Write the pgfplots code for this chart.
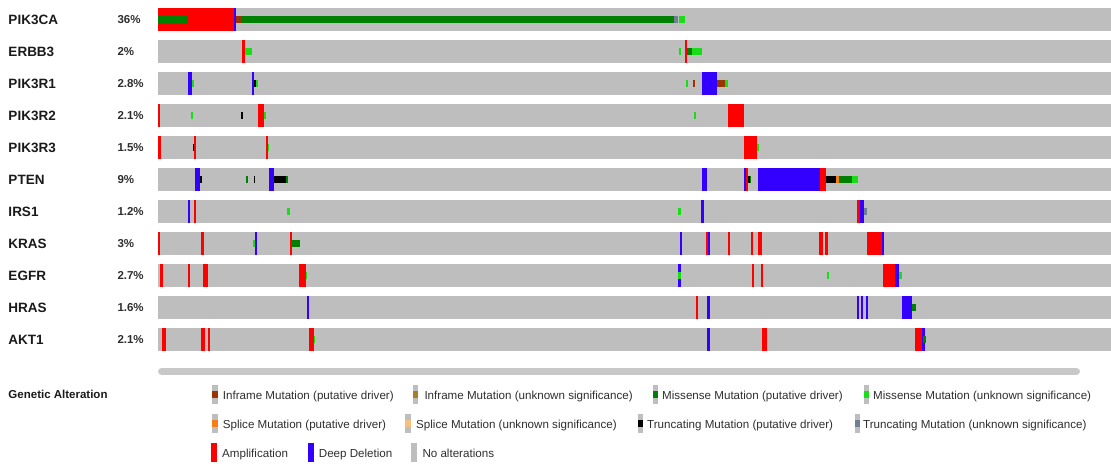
\documentclass[border=0pt]{standalone}
\usepackage{pgfplots}
\usepackage{pgfplotstable}
\pgfplotsset{compat=1.18}
\usepackage{fontspec}
\setmainfont{Liberation Sans}

\definecolor{trackgray}{HTML}{BEBEBE}
\definecolor{ampred}{HTML}{FF0000}
\definecolor{delblue}{HTML}{3300FF}
\definecolor{misd}{HTML}{008000}
\definecolor{misv}{HTML}{1ADD1A}
\definecolor{infd}{HTML}{993404}
\definecolor{infv}{HTML}{A68028}
\definecolor{trd}{HTML}{000000}
\definecolor{trv}{HTML}{708090}
\definecolor{spd}{HTML}{F57F17}
\definecolor{spv}{HTML}{F7BE7C}
\definecolor{scrollgray}{HTML}{C8C8C8}
\definecolor{txt}{HTML}{2E2E2E}
\definecolor{gtxt}{HTML}{1A1A1A}

% rectangle marks: width \cellw (data units = pt), left edge at the point
\pgfdeclareplotmark{cellF}{%
  \pgfpathrectangle{\pgfpoint{0pt}{-11.5pt}}{\pgfpoint{\cellw pt}{23pt}}\pgfusepathqfill}
\pgfdeclareplotmark{cellM}{%
  \pgfpathrectangle{\pgfpoint{0pt}{-3.75pt}}{\pgfpoint{\cellw pt}{7.5pt}}\pgfusepathqfill}
\pgfdeclareplotmark{cellL}{%
  \pgfpathrectangle{\pgfpoint{0pt}{-9.5pt}}{\pgfpoint{\cellw pt}{19pt}}\pgfusepathqfill}
\pgfdeclareplotmark{cellLM}{%
  \pgfpathrectangle{\pgfpoint{0pt}{-3.5pt}}{\pgfpoint{\cellw pt}{7pt}}\pgfusepathqfill}

\pgfplotsset{
  cells/.style={only marks, color=#1,
    mark options={fill=#1, draw=none},
    visualization depends on={\thisrow{w} \as \cellw}},
  full/.style={mark=cellF},
  mut/.style={mark=cellM},
  legF/.style={mark=cellL},
  legM/.style={mark=cellLM},
}

% tracks: x = left edge, w = width, r = gene row (0 = PIK3CA ... 10 = AKT1)
\pgfplotstableread{
x w r
158 953 0
158 953 1
158 953 2
158 953 3
158 953 4
158 953 5
158 953 6
158 953 7
158 953 8
158 953 9
158 953 10
}\tracks

% Amplification
\pgfplotstableread{
x w r
158 76 0
241.5 3.5 1
685 2 1
157.7 2.3 3
258.3 6 3
727.7 16.6 3
158.3 2.5 4
194 2.3 4
265.7 2 4
744.3 12.4 4
746 2 5
819.7 6 5
194 2.3 6
857.3 2.7 6
157.7 2.3 7
201.3 2.4 7
290 2 7
706 2.3 7
727.7 2 7
750.5 2 7
758.3 3.7 7
819.3 3.4 7
825 2.7 7
866.7 15 7
160 3 8
187.7 2.3 8
203 5 8
299 6.7 8
751.7 2.3 8
761 2.3 8
883.3 12 8
695.7 2.3 9
162 3.7 10
201.3 4 10
207.7 2.3 10
308.7 5 10
762.3 5 10
915.3 6.4 10
}\amp

% Deep deletion
\pgfplotstableread{
x w r
234 2 0
188.3 3.4 2
251.7 2.3 2
701.7 15.6 2
195.3 4.7 5
269 5 5
701.7 5 5
744.3 1.7 5
758.3 61.4 5
187.7 2.3 6
701 2.7 6
860 4 6
255 2 7
680 2.3 7
708.3 1.7 7
881.7 2 7
678.3 2.7 8
895.3 3.7 8
306.7 2.3 9
707.3 2.7 9
857.3 2 9
860.7 2 9
866 2.3 9
901.7 10 9
707.3 2.7 10
921.7 3.3 10
}\del

% Missense (putative driver)
\pgfplotstableread{
x w r
158 30 0
241 433 0
687 5 1
245.7 2 5
286 1.7 5
750 1.3 5
838.7 13 5
292 7.7 7
911.7 4 9
923.3 2.7 10
}\misdrv

% Missense (unknown significance)
\pgfplotstableread{
x w r
679 6 0
245 7 1
679 1.7 1
692 9.5 1
191.7 2.6 2
255.7 2.6 2
686.3 1.7 2
725 2.7 2
191 2.3 3
264.3 1.7 3
694.3 1.7 3
267.7 1.6 4
756.7 2 4
851.7 6 5
287.3 2.7 6
678.3 2.4 6
253.3 2 7
305.7 1.6 8
678.3 2.7 8
826.7 2.3 8
899 3 8
313.7 1.6 10
}\misvus

% Inframe (putative driver)
\pgfplotstableread{
x w r
236 5 0
693 1.7 2
717.3 7.7 2
}\infdrv

% Truncating (putative driver)
\pgfplotstableread{
x w r
254 1.7 2
241.3 1.7 3
192.7 1.6 4
200 2.3 5
253.7 1.6 5
274 12 5
748 2 5
825.7 10.6 5
}\trdrv

% Truncating (unknown significance)
\pgfplotstableread{
x w r
674 3.5 0
864 2.7 6
}\trvus

% Splice (putative driver)
\pgfplotstableread{
x w r
836.3 2.4 5
}\spdrv

% legend swatches: x, w, y (centre)
\pgfplotstableread{
x w y
212 5.5 394.7
412.7 5.5 394.7
652.5 5.5 394.7
863.5 5.5 394.7
212 5.5 423.8
405 5.5 423.8
637.5 5.5 423.8
854.5 5.5 423.8
410.7 6 452.8
}\leggray

% scrollbar
\pgfplotstableread{
x y w
161.7 371.4 0
1076.3 371.4 0
}\scrollbar

\begin{document}
\begin{tikzpicture}
\begin{axis}[
  x=1pt, y=1pt,
  xmin=0, xmax=1111, ymin=0, ymax=468,
  y dir=reverse,
  hide axis, clip=false,
  enlargelimits=false,
]
\path[draw=none] (axis cs:0,0) rectangle (axis cs:1111,468);

% scrollbar
\addplot[scrollgray, line width=7.3pt, line cap=round, mark=none] table[x=x, y=y] {\scrollbar};

% tracks
\addplot[cells=trackgray, full] table[x=x, y expr=19.5+32*\thisrow{r}] {\tracks};
% full-height alterations
\addplot[cells=ampred, full] table[x=x, y expr=19.5+32*\thisrow{r}] {\amp};
\addplot[cells=delblue, full] table[x=x, y expr=19.5+32*\thisrow{r}] {\del};
% mutations
\addplot[cells=misd, mut] table[x=x, y expr=19.5+32*\thisrow{r}] {\misdrv};
\addplot[cells=misv, mut] table[x=x, y expr=19.5+32*\thisrow{r}] {\misvus};
\addplot[cells=infd, mut] table[x=x, y expr=19.5+32*\thisrow{r}] {\infdrv};
\addplot[cells=trd, mut] table[x=x, y expr=19.5+32*\thisrow{r}] {\trdrv};
\addplot[cells=trv, mut] table[x=x, y expr=19.5+32*\thisrow{r}] {\trvus};
\addplot[cells=spd, mut] table[x=x, y expr=19.5+32*\thisrow{r}] {\spdrv};

% gene names and percentages
\foreach \g/\p [count=\i from 0] in {PIK3CA/36\%, ERBB3/2\%, PIK3R1/2.8\%, PIK3R2/2.1\%, PIK3R3/1.5\%, PTEN/9\%, IRS1/1.2\%, KRAS/3\%, EGFR/2.7\%, HRAS/1.6\%, AKT1/2.1\%}{
  \edef\temp{\noexpand\node[anchor=base west, inner sep=0pt, font=\noexpand\fontsize{13.5}{16}\noexpand\selectfont\noexpand\bfseries, text=gtxt] at (axis cs:8.3,{24.3+32*\i}) {\g};
  \noexpand\node[anchor=base west, inner sep=0pt, font=\noexpand\fontsize{11.5}{14}\noexpand\selectfont\noexpand\bfseries, text=txt] at (axis cs:117.3,{23.4+32*\i}) {\p};}
  \temp
}

% legend
\addplot[cells=trackgray, legF] table[x=x, y=y] {\leggray};
\addplot[cells=infd, legM] table[x=x, y=y] {
x w y
212 5.5 394.7
};
\addplot[cells=infv, legM] table[x=x, y=y] {
x w y
412.7 5.5 394.7
};
\addplot[cells=misd, legM] table[x=x, y=y] {
x w y
652.5 5.5 394.7
};
\addplot[cells=misv, legM] table[x=x, y=y] {
x w y
863.5 5.5 394.7
};
\addplot[cells=spd, legM] table[x=x, y=y] {
x w y
212 5.5 423.8
};
\addplot[cells=spv, legM] table[x=x, y=y] {
x w y
405 5.5 423.8
};
\addplot[cells=trd, legM] table[x=x, y=y] {
x w y
637.5 5.5 423.8
};
\addplot[cells=trv, legM] table[x=x, y=y] {
x w y
854.5 5.5 423.8
};
\addplot[cells=ampred, legF] table[x=x, y=y] {
x w y
210.7 6 452.8
};
\addplot[cells=delblue, legF] table[x=x, y=y] {
x w y
307.5 6.5 452.8
};

\tikzset{lt/.style={anchor=base west, inner sep=0pt, font=\fontsize{11.6}{14}\selectfont, text=txt}}
\node[anchor=base west, inner sep=0pt, font=\fontsize{11.5}{14}\selectfont\bfseries, text=gtxt] at (axis cs:8.3,398.8) {Genetic Alteration};
\node[lt] at (axis cs:222.7,399.7) {Inframe Mutation (putative driver)};
\node[lt] at (axis cs:424.3,399.7) {Inframe Mutation (unknown significance)};
\node[lt] at (axis cs:662,399.7) {Missense Mutation (putative driver)};
\node[lt] at (axis cs:873,399.7) {Missense Mutation (unknown significance)};
\node[lt] at (axis cs:222.7,428.8) {Splice Mutation (putative driver)};
\node[lt] at (axis cs:416,428.8) {Splice Mutation (unknown significance)};
\node[lt] at (axis cs:647,428.8) {Truncating Mutation (putative driver)};
\node[lt] at (axis cs:863,428.8) {Truncating Mutation (unknown significance)};
\node[lt] at (axis cs:222,457.7) {Amplification};
\node[lt] at (axis cs:318.7,457.7) {Deep Deletion};
\node[lt] at (axis cs:422.3,457.7) {No alterations};
\end{axis}
\end{tikzpicture}
\end{document}
